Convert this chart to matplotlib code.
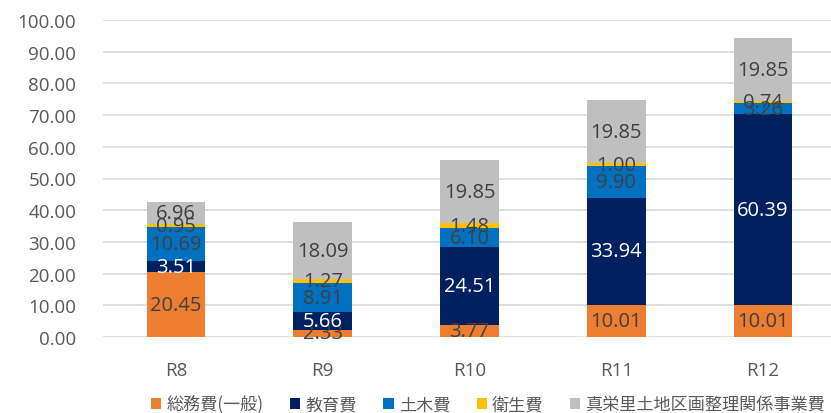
import matplotlib
matplotlib.use("Agg")
import matplotlib.pyplot as plt
import numpy as np

categories = ["R8", "R9", "R10", "R11", "R12"]
series_names = ["総務費(一般)", "教育費", "土木費", "衛生費", "真栄里土地区画整理関係事業費"]
soumu = [20.45, 2.33, 3.77, 10.01, 10.01]
kyouiku = [3.51, 5.66, 24.51, 33.94, 60.39]
doboku = [10.69, 8.91, 6.10, 9.90, 3.26]
eisei = [0.95, 1.27, 1.48, 1.00, 0.74]
maezato = [6.96, 18.09, 19.85, 19.85, 19.85]
colors = ["#ED7D31", "#002060", "#0070C0", "#FFC000", "#BFBFBF"]
label_colors = ["#404040", "#FFFFFF", "#404040", "#404040", "#404040"]
yticks = [0, 10, 20, 30, 40, 50, 60, 70, 80, 90, 100]

W, H = 831, 414
fig = plt.figure(figsize=(W / 100, H / 100), dpi=100)
ax = fig.add_axes([102.6 / W, (H - 338) / H, 733.8 / W, 317 / H])

x = np.arange(len(categories))
bottom = np.zeros(len(categories))
handles = []
for vals, col, lc, name in zip([soumu, kyouiku, doboku, eisei, maezato], colors, label_colors, series_names):
    vals = np.array(vals)
    b = ax.bar(x, vals, 0.4, bottom=bottom, color=col, label=name, zorder=3)
    handles.append(b)
    for xi, v, bt in zip(x, vals, bottom):
        ax.text(xi, bt + v / 2, f"{v:.2f}", ha="center", va="center",
                color=lc, fontsize=14.5, family="Open Sans", zorder=4)
    bottom += vals

ax.set_xlim(-0.5, len(categories) - 0.5)
ax.set_ylim(0, 100)
ax.set_yticks(yticks)
ax.set_yticklabels([f"{t:.2f}" for t in yticks], family="Open Sans", fontsize=13.5, color="#595959")
ax.set_xticks(x)
ax.set_xticklabels(categories, family="Open Sans", fontsize=13.5, color="#595959")
ax.tick_params(axis="both", length=0)
ax.tick_params(axis="y", pad=19)
ax.tick_params(axis="x", pad=17)
ax.grid(axis="y", color="#D9D9D9", linewidth=1.2, zorder=0)
for s in ax.spines.values():
    s.set_visible(False)

leg = fig.legend(handles=handles, labels=series_names, loc="center", bbox_to_anchor=(488 / W, (H - 405) / H),
                 ncol=5, frameon=False, handlelength=0.6, handleheight=0.6, handletextpad=0.3,
                 columnspacing=1.55, prop={"family": ["Noto Sans CJK JP", "DejaVu Sans"], "size": 12.3})
for t in leg.get_texts():
    t.set_color("#595959")

fig.savefig("out.png", dpi=100)
